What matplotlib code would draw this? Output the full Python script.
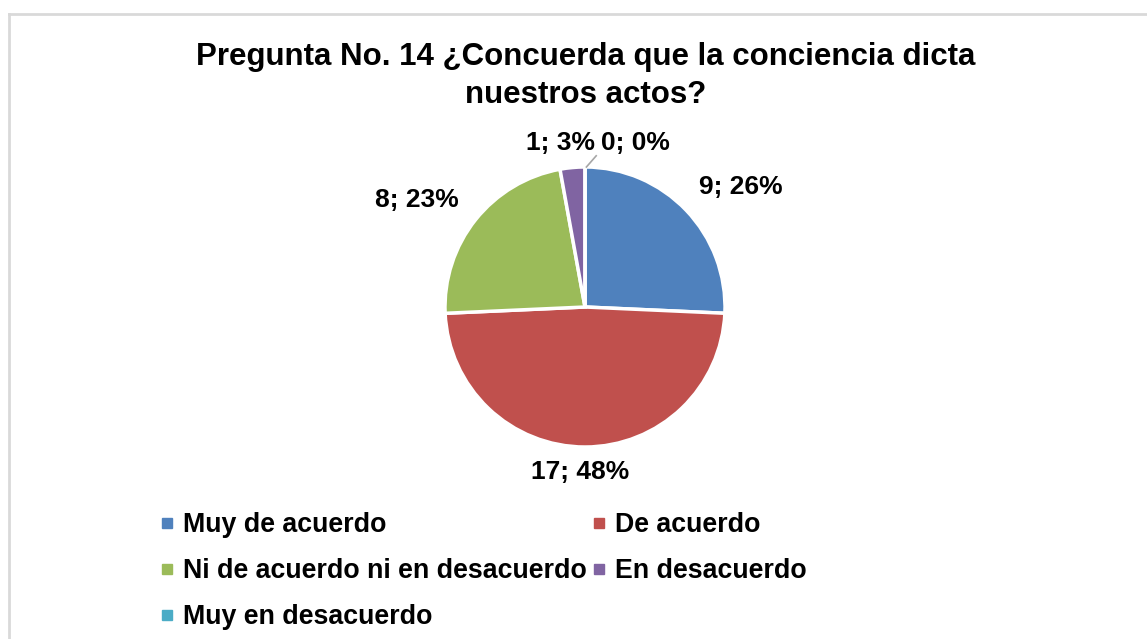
import matplotlib
matplotlib.use("Agg")
import matplotlib.pyplot as plt
from matplotlib.lines import Line2D

plt.rcParams['font.family'] = ['Liberation Sans', 'DejaVu Sans']

categories = ["Muy de acuerdo", "De acuerdo", "Ni de acuerdo ni en desacuerdo",
              "En desacuerdo", "Muy en desacuerdo"]
values = [9, 17, 8, 1, 0]
pct_labels = ["26%", "48%", "23%", "3%", "0%"]
colors = ["#4F81BD", "#C0504D", "#9BBB59", "#8064A2", "#4BACC6"]

W, H = 1147, 639
fig = plt.figure(figsize=(W / 100, H / 100), dpi=100)
fig.patch.set_facecolor("white")

# marco gris del gráfico
fig.add_artist(Line2D([9 / W, 1], [1 - 14 / H, 1 - 14 / H], color="#D9D9D9", lw=2))
fig.add_artist(Line2D([9 / W, 9 / W], [0, 1 - 14 / H], color="#D9D9D9", lw=2))

fig.text(586 / W, 1 - 76 / H, "Pregunta No. 14 ¿Concuerda que la conciencia dicta\nnuestros actos?",
         ha="center", va="center", fontsize=22.5, fontweight="bold", linespacing=1.38)

cx, cy, r = 585, 307, 140
ax = fig.add_axes([(cx - r) / W, (H - cy - r) / H, 2 * r / W, 2 * r / H])
wedges, _ = ax.pie(values, colors=colors, startangle=90, counterclock=False,
                   wedgeprops=dict(edgecolor="white", linewidth=2.5))
ax.set_xlim(-1, 1)
ax.set_ylim(-1, 1)
ax.set_aspect("equal")
ax.axis("off")

# posiciones de las etiquetas (en píxeles respecto al centro)
label_pos = [(156, 120), (-5, -165), (-168, 107), (-24, 164), (50, 164)]
for v, p, (dx, dy) in zip(values, pct_labels, label_pos):
    fig.text((cx + dx) / W, (H - cy + dy) / H, f"{v}; {p}", ha="center", va="center",
             fontsize=19, fontweight="bold")
# línea guía para la etiqueta 0; 0%
ax.plot([0.01, 0.08], [1.0, 1.08], color="#A6A6A6", lw=1.2, clip_on=False)

handles = [Line2D([], [], marker="s", ls="none", color=c, markersize=7.5) for c in colors]
order = [0, 2, 4, 1, 3]
fig.legend([handles[i] for i in order], [categories[i] for i in order],
           ncol=2, loc="upper left", bbox_to_anchor=(160 / W, 1 - 512 / H),
           frameon=False, prop=dict(size=19.3, weight="bold"),
           handlelength=0.5, handletextpad=0.35, columnspacing=0.2,
           labelspacing=0.75, borderaxespad=0, borderpad=0)

fig.savefig("out.png", dpi=100, facecolor="white")
